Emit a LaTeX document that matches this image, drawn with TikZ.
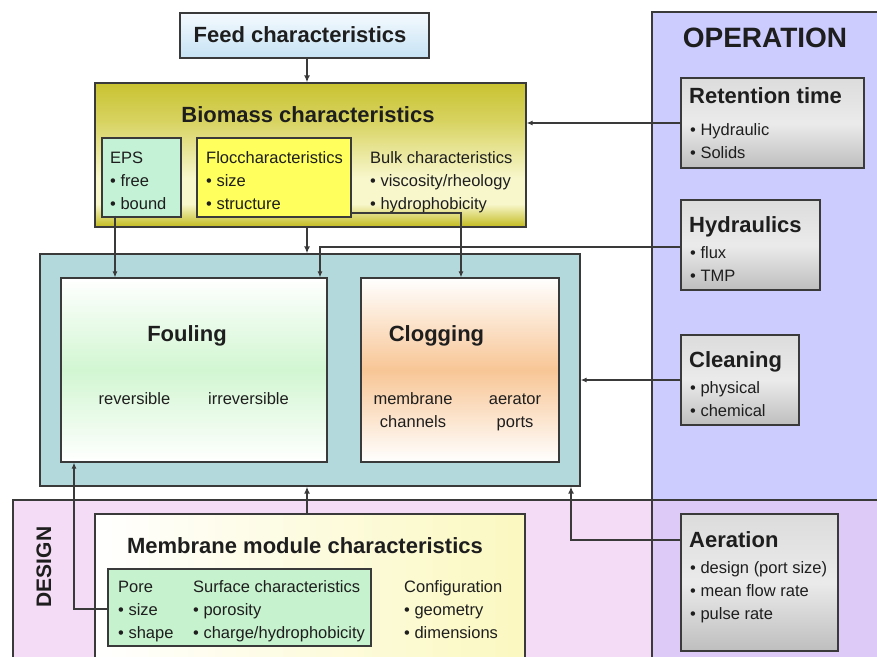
\documentclass[tikz,border=0pt]{standalone}
\usepackage{fontspec}
\setmainfont{Liberation Sans}
\usetikzlibrary{arrows.meta}
\definecolor{bordc}{HTML}{3A3A3A}
\definecolor{feedT}{HTML}{F4FAFE}
\definecolor{feedB}{HTML}{C6E2F4}
\definecolor{oliveT}{HTML}{C9C331}
\definecolor{oliveB}{HTML}{C2BA1E}
\definecolor{paleY}{HTML}{F8F7CC}
\definecolor{epsG}{HTML}{C4F2D6}
\definecolor{flocY}{HTML}{FFFF5E}
\definecolor{tealc}{HTML}{B3D9DC}
\definecolor{foulG}{HTML}{D2F6D2}
\definecolor{clogO}{HTML}{F8C696}
\definecolor{opc}{HTML}{CCCCFF}
\definecolor{desc}{HTML}{F5DCF6}
\definecolor{ovc}{HTML}{DDCAF7}
\definecolor{greyT}{HTML}{DCDCDC}
\definecolor{greyB}{HTML}{BEBEBE}
\definecolor{memY}{HTML}{FBF8C0}
\definecolor{poreG}{HTML}{C6F2CE}
\definecolor{txtc}{HTML}{1E1E1E}
\pgfdeclareverticalshading{bioshade}{100bp}{color(0bp)=(oliveB); color(25bp)=(oliveB); color(33bp)=(paleY); color(42bp)=(paleY); color(62bp)=(oliveT!70!paleY); color(75bp)=(oliveT); color(100bp)=(oliveT)}
\pgfdeclareverticalshading{greyshade}{100bp}{color(0bp)=(greyB); color(25bp)=(greyB); color(50bp)=(white!92!black); color(75bp)=(greyT); color(100bp)=(greyT)}
\tikzset{
  box/.style={draw=bordc, line width=1.3pt, rectangle, inner sep=0pt},
  gbox/.style={box, shading=greyshade},
  ln/.style={draw=bordc, line width=1.1pt},
  arr/.style={ln, -{Latex[length=6pt,width=5pt]}},
  tarr/.style={draw=bordc, line width=2.2pt, -{Latex[length=7pt,width=6pt]}},
  txt/.style={font=\fontsize{16.5}{20}\selectfont, text=txtc, inner sep=0pt, anchor=base west},
  ctxt/.style={txt, anchor=base},
  ttl/.style={font=\bfseries\fontsize{22}{26}\selectfont, text=txtc, inner sep=0pt, anchor=base},
  lttl/.style={ttl, anchor=base west}
}
\begin{document}
\begin{tikzpicture}[x=1pt, y=-1pt]
\useasboundingbox (0,0) rectangle (877,656);
% panels
\path[fill=opc] (652,12) rectangle (880,500);
\path[fill=desc] (13,500) rectangle (880,660);
\path[fill=ovc] (652,500) rectangle (880,660);
\draw[draw=bordc, line width=1.3pt] (13,660) -- (13,500) -- (880,500);
\draw[draw=bordc, line width=1.3pt] (652,660) -- (652,12) -- (880,12);
\node[ttl, font=\bfseries\fontsize{28}{32}\selectfont] (optitle) at (765,47) {OPERATION};
\node[ttl, font=\bfseries\fontsize{21}{24}\selectfont, rotate=90] (destitle) at (51,567) {DESIGN};
% coordinates
\coordinate (cx) at (307,0);
\coordinate (hy) at (0,247);
\coordinate (hx) at (320,0);
\coordinate (fy) at (0,213);
\coordinate (fx) at (461,0);
\coordinate (ex) at (115,0);
\coordinate (px) at (74,0);
\coordinate (ay) at (0,540);
\coordinate (ax) at (571,0);
% feed
\node[box, top color=feedT, bottom color=feedB, minimum width=249pt, minimum height=45pt] (feed) at (304.5,35.5) {};
\node[ttl] (feedt) at (300,42) {Feed characteristics};
% biomass
\node[box, shading=bioshade, minimum width=431pt, minimum height=144pt] (bio) at (310.5,155) {};
\node[ttl] (biot) at (308,122) {Biomass characteristics};
\node[box, fill=epsG, minimum width=79pt, minimum height=79pt] (eps) at (141.5,177.5) {};
\node[txt] (eps1) at (110,163) {EPS};
\node[txt] (eps2) at (110,186) {• free};
\node[txt] (eps3) at (110,209) {• bound};
\node[box, fill=flocY, minimum width=154pt, minimum height=79pt] (floc) at (274,177.5) {};
\node[txt] (floc1) at (206,163) {Floccharacteristics};
\node[txt] (floc2) at (206,186) {• size};
\node[txt] (floc3) at (206,209) {• structure};
\node[txt] (bulk1) at (370,163) {Bulk characteristics};
\node[txt] (bulk2) at (370,186) {• viscosity/rheology};
\node[txt] (bulk3) at (370,209) {• hydrophobicity};
% teal container
\node[box, fill=tealc, minimum width=540pt, minimum height=232pt] (teal) at (310,370) {};
\node[box, top color=white, bottom color=white, middle color=foulG, minimum width=266pt, minimum height=184pt] (foul) at (194,370) {};
\node[ttl] (foult) at (187,341) {Fouling};
\node[ctxt] (rev) at (134.5,404) {reversible};
\node[ctxt] (irr) at (248.5,404) {irreversible};
\node[box, top color=white, bottom color=white, middle color=clogO, minimum width=198pt, minimum height=184pt] (clog) at (460,370) {};
\node[ttl] (clogt) at (436.5,341) {Clogging};
\node[ctxt] (mem1) at (413,404) {membrane};
\node[ctxt] (mem2) at (413,427) {channels};
\node[ctxt] (aer1) at (515,404) {aerator};
\node[ctxt] (aer2) at (515,427) {ports};
% operation boxes
\node[gbox, minimum width=183pt, minimum height=90pt] (ret) at (772.5,123) {};
\node[lttl] (rett) at (689,103) {Retention time};
\node[txt] (ret1) at (690,135) {• Hydraulic};
\node[txt] (ret2) at (690,158) {• Solids};
\node[gbox, minimum width=139pt, minimum height=90pt] (hyd) at (750.5,245) {};
\node[lttl] (hydt) at (689,232) {Hydraulics};
\node[txt] (hyd1) at (690,258) {• flux};
\node[txt] (hyd2) at (690,281) {• TMP};
\node[gbox, minimum width=118pt, minimum height=90pt] (clean) at (740,380) {};
\node[lttl] (cleant) at (689,367) {Cleaning};
\node[txt] (clean1) at (690,393) {• physical};
\node[txt] (clean2) at (690,416) {• chemical};
\node[gbox, minimum width=157pt, minimum height=137pt] (aer) at (759.5,582.5) {};
\node[lttl] (aert) at (689,547) {Aeration};
\node[txt] (aerl1) at (690,573) {• design (port size)};
\node[txt] (aerl2) at (690,596) {• mean flow rate};
\node[txt] (aerl3) at (690,619) {• pulse rate};
% membrane module
\node[box, left color=white, right color=memY, minimum width=430pt, minimum height=150pt] (mem) at (310,589) {};
\node[ttl] (memt) at (305,553) {Membrane module characteristics};
\node[box, fill=poreG, minimum width=263pt, minimum height=77pt] (pore) at (239.5,607.5) {};
\node[txt] (pore1) at (118,592) {Pore};
\node[txt] (pore2) at (118,615) {• size};
\node[txt] (pore3) at (118,638) {• shape};
\node[txt] (surf1) at (193,592) {Surface characteristics};
\node[txt] (surf2) at (193,615) {• porosity};
\node[txt] (surf3) at (193,638) {• charge/hydrophobicity};
\node[txt] (conf1) at (404,592) {Configuration};
\node[txt] (conf2) at (404,615) {• geometry};
\node[txt] (conf3) at (404,638) {• dimensions};
% connectors
\draw[tarr, line width=1.8pt] (feed.south -| cx) -- (bio.north -| cx);
\draw[tarr, line width=1.8pt] (bio.south -| cx) -- (teal.north -| cx);
\draw[tarr, line width=1.8pt] (mem.north -| cx) -- (teal.south -| cx);
\draw[arr] (ret.west) -- (bio.east |- ret.west);
\draw[arr] (clean.west) -- (teal.east |- clean.west);
\draw[arr] (hyd.west |- hy) -| (foul.north -| hx);
\draw[arr] (floc.east |- fy) -| (clog.north -| fx);
\draw[arr] ([yshift=2pt]eps.south -| ex) -- (foul.north -| ex);
\draw[arr] (pore.west |- 0,609) -| (foul.south -| px);
\draw[tarr] (aer.west |- ay) -| (teal.south -| ax);
\end{tikzpicture}
\end{document}
